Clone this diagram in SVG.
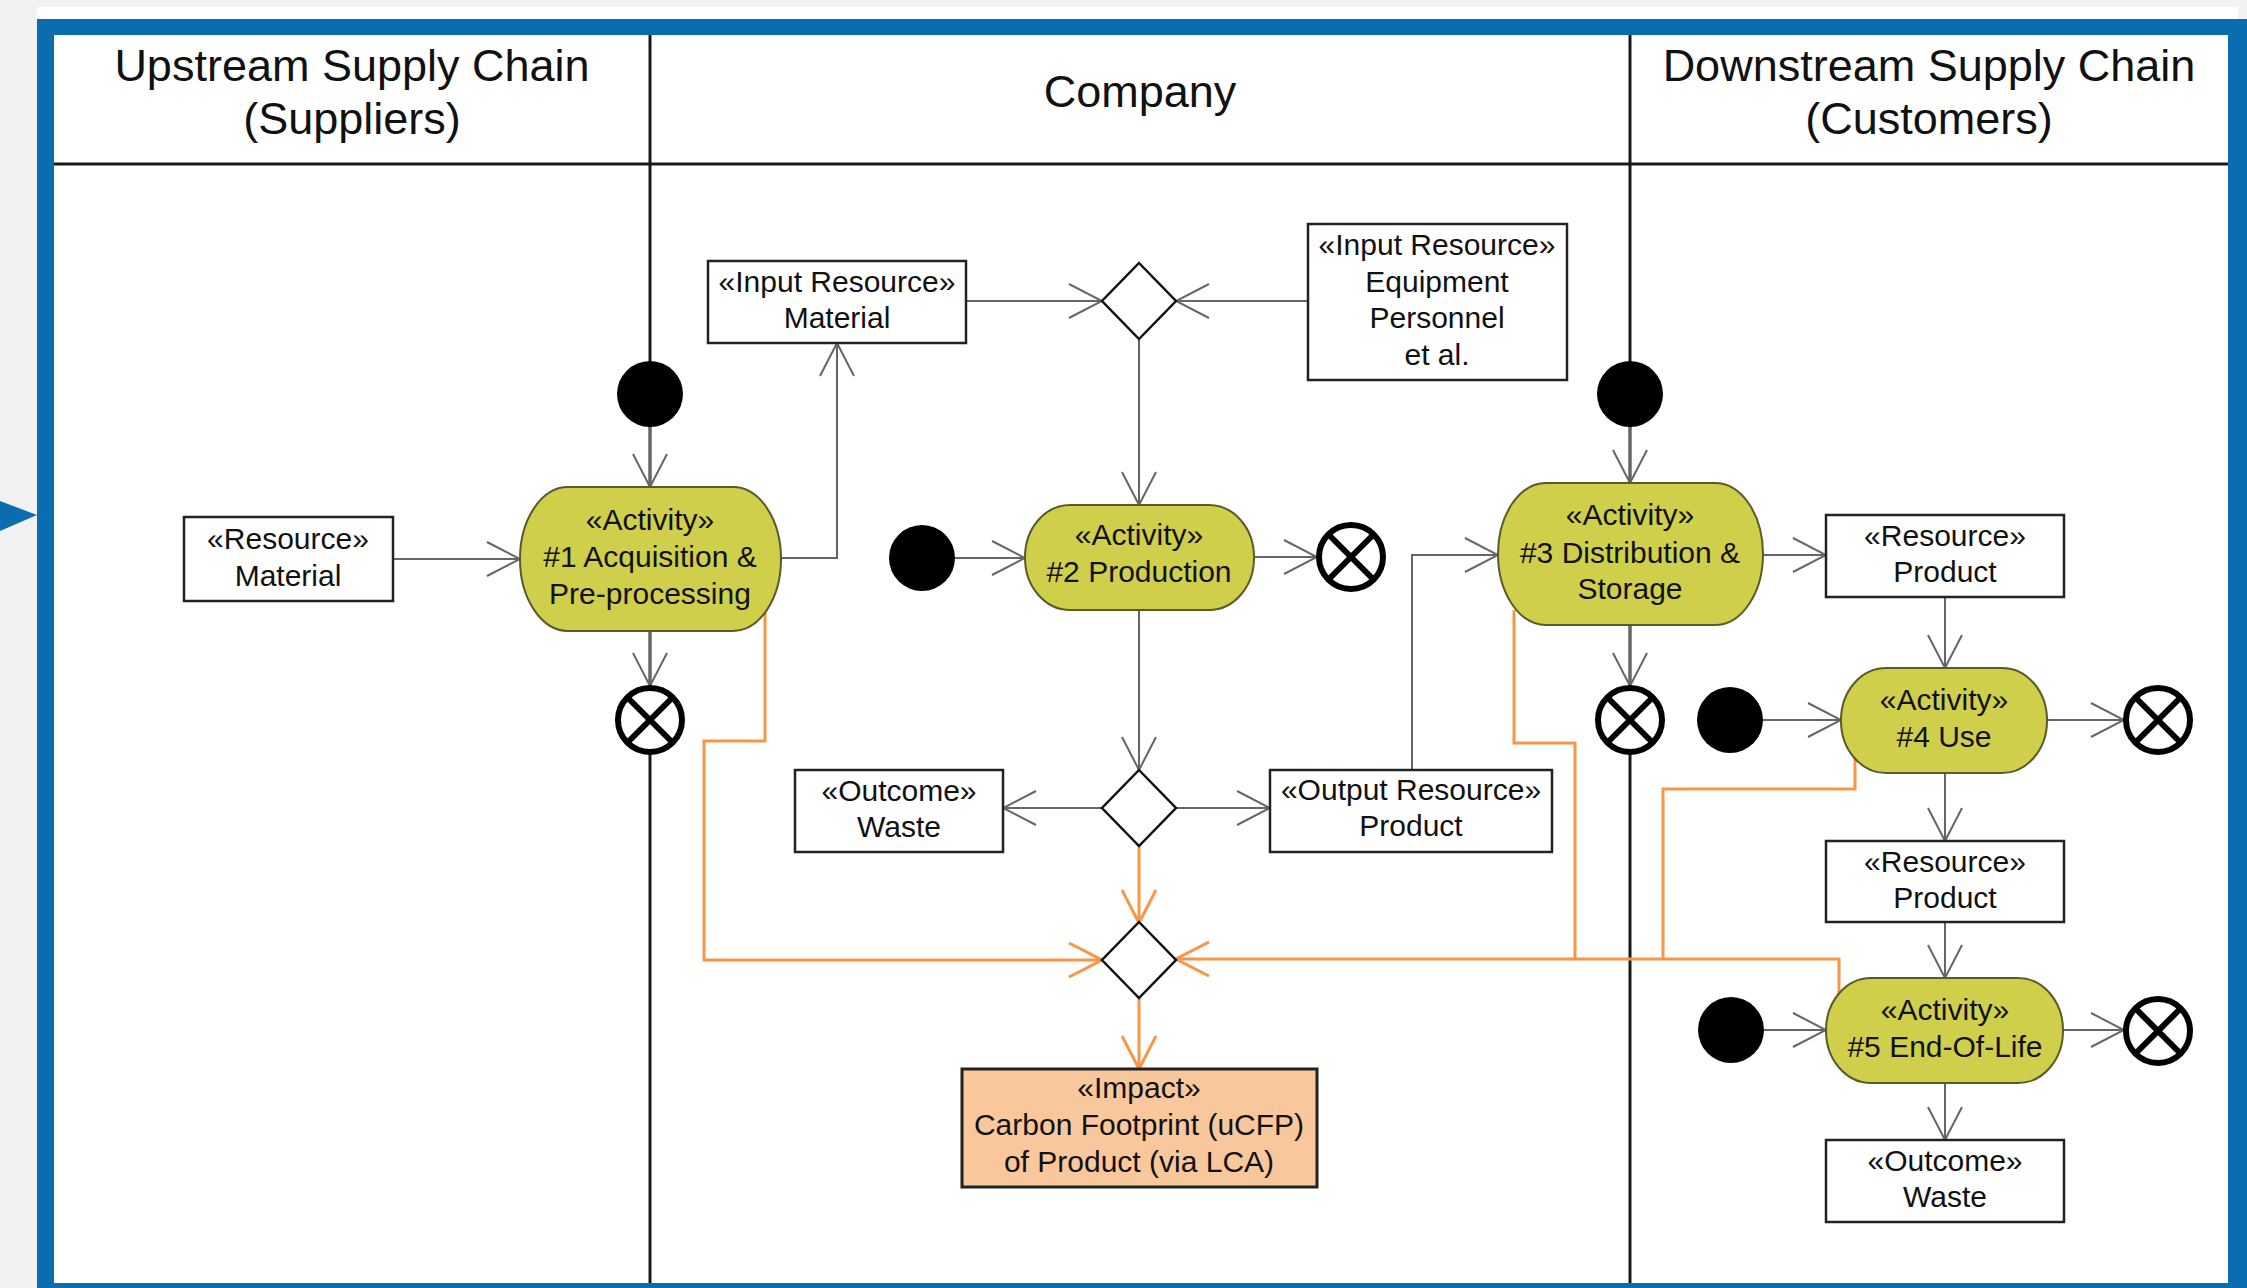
<svg xmlns="http://www.w3.org/2000/svg" width="2247" height="1288" viewBox="0 0 2247 1288">
<defs>
<style>
text{font-family:"Liberation Sans",Arial,sans-serif;fill:#111;text-anchor:middle}
.hdr{font-size:45px}
.lbl{font-size:30px}
.box{fill:#fff;stroke:#222;stroke-width:2.5}
.imp{fill:#f9c79c;stroke:#222;stroke-width:3}
.act{fill:#cfcf4b;stroke:#5a5a2a;stroke-width:2}
.dia{fill:#fff;stroke:#111;stroke-width:2.5}
.ini{fill:#000}
.fin{fill:#fff;stroke:#000;stroke-width:6}
.finx{stroke:#000;stroke-width:6}
.lane{stroke:#1a1a1a;stroke-width:3;fill:none}
.c{fill:none;stroke:#666;stroke-width:2;marker-end:url(#ag)}
.cn{fill:none;stroke:#666;stroke-width:2}
.o{fill:none;stroke:#f79646;stroke-width:3;marker-end:url(#ao)}
.on{fill:none;stroke:#f79646;stroke-width:3}
</style>
<marker id="ag" viewBox="0 0 36 36" markerWidth="36" markerHeight="36" refX="34" refY="18" orient="auto" markerUnits="userSpaceOnUse">
<path d="M1,1 L34,18 L1,35" fill="none" stroke="#666" stroke-width="2"/>
</marker>
<marker id="ao" viewBox="0 0 36 36" markerWidth="36" markerHeight="36" refX="34" refY="18" orient="auto" markerUnits="userSpaceOnUse">
<path d="M1,1 L34,18 L1,35" fill="none" stroke="#f79646" stroke-width="3"/>
</marker>
</defs>

<g id="frame">
<rect x="0" y="0" width="2247" height="1288" fill="#f2f2f2"/>
<rect x="37" y="7" width="2201" height="14" fill="#fff"/>
<rect x="37" y="19" width="2230" height="1290" fill="#0a6db0"/>
<rect x="54" y="35" width="2174" height="1248" fill="#fff"/>
<polygon points="0,501 37,515 0,531" fill="#0a6db0"/>
</g>

<g id="lanes">
<line class="lane" x1="54" y1="164" x2="2228" y2="164"/>
<line class="lane" x1="650" y1="35" x2="650" y2="1283"/>
<line class="lane" x1="1630" y1="35" x2="1630" y2="1283"/>
<text class="hdr" x="352" y="81">Upstream Supply Chain</text>
<text class="hdr" x="352" y="134">(Suppliers)</text>
<text class="hdr" x="1140" y="107">Company</text>
<text class="hdr" x="1929" y="81">Downstream Supply Chain</text>
<text class="hdr" x="1929" y="134">(Customers)</text>
</g>

<g id="connectors">
<path class="c" d="M393,559 H520"/>
<path class="c" d="M650,427 V487"/>
<path class="c" d="M781,558 H837 V343"/>
<path class="c" d="M650,631 V686"/>
<path class="c" d="M966,301 H1102"/>
<path class="c" d="M1308,301 H1176"/>
<path class="c" d="M1139,339 V505"/>
<path class="c" d="M955,558 H1025"/>
<path class="c" d="M1254,557 H1317"/>
<path class="c" d="M1139,610 V770"/>
<path class="c" d="M1102,808 H1003"/>
<path class="c" d="M1176,808 H1270"/>
<path class="c" d="M1412,770 V555 H1498"/>
<path class="c" d="M1630,427 V483"/>
<path class="c" d="M1630,625 V686"/>
<path class="c" d="M1763,555 H1826"/>
<path class="c" d="M1945,597 V668"/>
<path class="c" d="M1763,720 H1841"/>
<path class="c" d="M2047,720 H2124"/>
<path class="c" d="M1945,773 V841"/>
<path class="c" d="M1945,922 V978"/>
<path class="c" d="M1764,1030 H1826"/>
<path class="c" d="M2063,1030 H2124"/>
<path class="c" d="M1945,1083 V1140"/>
<path class="o" d="M765,612 V741 H704 V960 H1102"/>
<path class="o" d="M1139,846 V923"/>
<path class="o" d="M1514,610 V743 H1575 V959 H1176"/>
<path class="on" d="M1855,756 V789 H1663 V959"/>
<path class="on" d="M1839,995 V959 H1575"/>
<path class="o" d="M1139,998 V1069"/>
</g>

<g id="res-material">
<rect class="box" x="184" y="517" width="209" height="84"/>
<text class="lbl" x="288" y="549">«Resource»</text>
<text class="lbl" x="288" y="586">Material</text>
</g>
<g id="in-material">
<rect class="box" x="708" y="261" width="258" height="82"/>
<text class="lbl" x="837" y="292">«Input Resource»</text>
<text class="lbl" x="837" y="328">Material</text>
</g>
<g id="in-equipment">
<rect class="box" x="1308" y="224" width="259" height="156"/>
<text class="lbl" x="1437" y="255">«Input Resource»</text>
<text class="lbl" x="1437" y="292">Equipment</text>
<text class="lbl" x="1437" y="328">Personnel</text>
<text class="lbl" x="1437" y="365">et al.</text>
</g>
<g id="outcome-waste-1">
<rect class="box" x="795" y="770" width="208" height="82"/>
<text class="lbl" x="899" y="801">«Outcome»</text>
<text class="lbl" x="899" y="837">Waste</text>
</g>
<g id="out-product">
<rect class="box" x="1270" y="770" width="282" height="82"/>
<text class="lbl" x="1411" y="800">«Output Resource»</text>
<text class="lbl" x="1411" y="836">Product</text>
</g>
<g id="res-product-1">
<rect class="box" x="1826" y="515" width="238" height="82"/>
<text class="lbl" x="1945" y="546">«Resource»</text>
<text class="lbl" x="1945" y="582">Product</text>
</g>
<g id="res-product-2">
<rect class="box" x="1826" y="841" width="238" height="81"/>
<text class="lbl" x="1945" y="872">«Resource»</text>
<text class="lbl" x="1945" y="908">Product</text>
</g>
<g id="outcome-waste-2">
<rect class="box" x="1826" y="1140" width="238" height="82"/>
<text class="lbl" x="1945" y="1171">«Outcome»</text>
<text class="lbl" x="1945" y="1207">Waste</text>
</g>
<g id="impact">
<rect class="imp" x="962" y="1069" width="355" height="118"/>
<text class="lbl" x="1139" y="1098">«Impact»</text>
<text class="lbl" x="1139" y="1135">Carbon Footprint (uCFP)</text>
<text class="lbl" x="1139" y="1172">of Product (via LCA)</text>
</g>

<g id="act1">
<rect class="act" x="520" y="487" width="261" height="144" rx="48" ry="72"/>
<text class="lbl" x="650" y="530">«Activity»</text>
<text class="lbl" x="650" y="567">#1 Acquisition &amp;</text>
<text class="lbl" x="650" y="604">Pre-processing</text>
</g>
<g id="act2">
<rect class="act" x="1025" y="505" width="229" height="105" rx="45" ry="52"/>
<text class="lbl" x="1139" y="545">«Activity»</text>
<text class="lbl" x="1139" y="582">#2 Production</text>
</g>
<g id="act3">
<rect class="act" x="1498" y="483" width="265" height="142" rx="48" ry="71"/>
<text class="lbl" x="1630" y="525">«Activity»</text>
<text class="lbl" x="1630" y="563">#3 Distribution &amp;</text>
<text class="lbl" x="1630" y="599">Storage</text>
</g>
<g id="act4">
<rect class="act" x="1841" y="668" width="206" height="105" rx="45" ry="52"/>
<text class="lbl" x="1944" y="710">«Activity»</text>
<text class="lbl" x="1944" y="747">#4 Use</text>
</g>
<g id="act5">
<rect class="act" x="1826" y="978" width="237" height="105" rx="45" ry="52"/>
<text class="lbl" x="1945" y="1020">«Activity»</text>
<text class="lbl" x="1945" y="1057">#5 End-Of-Life</text>
</g>

<g id="dec1"><polygon class="dia" points="1139,263 1176,301 1139,339 1102,301"/></g>
<g id="dec2"><polygon class="dia" points="1139,770 1176,808 1139,846 1102,808"/></g>
<g id="dec3"><polygon class="dia" points="1139,922 1176,960 1139,998 1102,960"/></g>

<g id="init1"><circle class="ini" cx="650" cy="394" r="33"/></g>
<g id="init2"><circle class="ini" cx="922" cy="558" r="33"/></g>
<g id="init3"><circle class="ini" cx="1630" cy="394" r="33"/></g>
<g id="init4"><circle class="ini" cx="1730" cy="720" r="33"/></g>
<g id="init5"><circle class="ini" cx="1731" cy="1030" r="33"/></g>

<g id="final1"><circle class="fin" cx="650" cy="720" r="32"/><path class="finx" d="M627,697 L673,743 M673,697 L627,743"/></g>
<g id="final2"><circle class="fin" cx="1351" cy="557" r="32"/><path class="finx" d="M1328,534 L1374,580 M1374,534 L1328,580"/></g>
<g id="final3"><circle class="fin" cx="1630" cy="720" r="32"/><path class="finx" d="M1607,697 L1653,743 M1653,697 L1607,743"/></g>
<g id="final4"><circle class="fin" cx="2158" cy="720" r="32"/><path class="finx" d="M2135,697 L2181,743 M2181,697 L2135,743"/></g>
<g id="final5"><circle class="fin" cx="2158" cy="1031" r="32"/><path class="finx" d="M2135,1008 L2181,1054 M2181,1008 L2135,1054"/></g>
</svg>
